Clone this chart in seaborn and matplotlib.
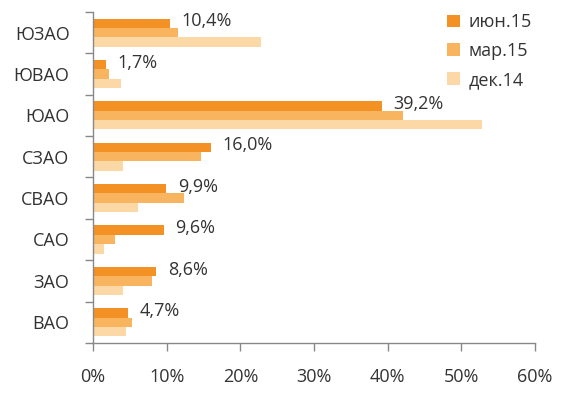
import matplotlib
import matplotlib.pyplot as plt
import pandas as pd
import seaborn as sns

matplotlib.use('agg')

districts = ["ЮЗАО", "ЮВАО", "ЮАО", "СЗАО", "СВАО", "САО", "ЗАО", "ВАО"]
periods = ["июн.15", "мар.15", "дек.14"]
jun15 = [10.4, 1.7, 39.2, 16.0, 9.9, 9.6, 8.6, 4.7]
mar15 = [11.5, 2.2, 42.1, 14.7, 12.4, 3.0, 8.0, 5.3]
dec14 = [22.8, 3.8, 52.8, 4.1, 6.1, 1.5, 4.1, 4.5]
colors = ["#F39124", "#F8B45E", "#FCD8A6"]

rows = []
for series, period in zip([jun15, mar15, dec14], periods):
    for d, v in zip(districts, series):
        rows.append({"district": d, "period": period, "value": v})
df = pd.DataFrame(rows)

sns.set_style("white")
plt.rcParams['font.family'] = ['Open Sans', 'DejaVu Sans']
fs = 13

fig = plt.figure(figsize=(5.82, 3.96), dpi=100)
ax = fig.add_axes([0.16, 0.134, 0.759, 0.836])

sns.barplot(data=df, y="district", x="value", hue="period", order=districts,
            hue_order=periods, palette=colors, width=0.68, orient="h",
            saturation=1, ax=ax, linewidth=0)

# data labels for the latest period
bar_h = 0.68 / 3
for i, v in enumerate(jun15):
    ax.text(v + 1.6, i - bar_h * 1.2, f"{v:.1f}%".replace(".", ","), va="center",
            ha="left", fontsize=fs, color="#333333")

ax.set_xlim(0, 60)
ax.set_ylim(7.5, -0.5)
ax.set_xticks(range(0, 61, 10))
ax.set_xticklabels([f"{t}%" for t in range(0, 61, 10)])
ax.set_yticks(range(len(districts)))
ax.set_yticks([i - 0.5 for i in range(len(districts) + 1)], minor=True)
ax.tick_params(axis='y', which='major', left=True, length=0, pad=17, labelsize=fs,
               labelcolor="#333333")
ax.tick_params(axis='y', which='minor', left=True, length=6, width=1, color="#888888",
               direction="out")
ax.tick_params(axis='x', bottom=True, length=6, width=1, color="#888888", direction="out",
               labelsize=fs, labelcolor="#333333", pad=12)
ax.set_xlabel("")
ax.set_ylabel("")

for side in ["top", "right"]:
    ax.spines[side].set_visible(False)
for side in ["left", "bottom"]:
    ax.spines[side].set_color("#888888")
    ax.spines[side].set_linewidth(1)

leg = ax.legend(loc="upper right", frameon=False, fontsize=fs, handlelength=0.7,
                handleheight=0.7, handletextpad=0.5, labelspacing=0.6,
                bbox_to_anchor=(1.03, 1.045))
for t in leg.get_texts():
    t.set_color("#333333")

plt.savefig("out.png", dpi=100)
